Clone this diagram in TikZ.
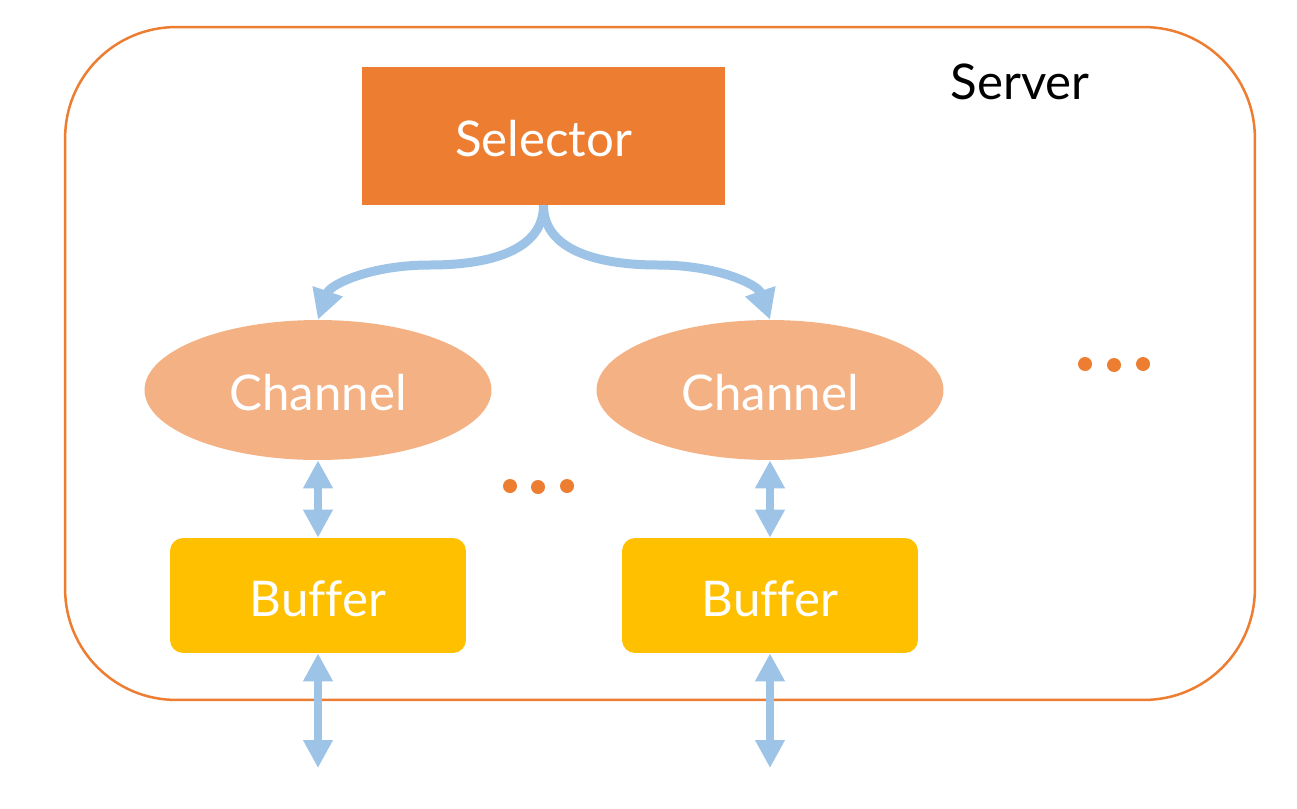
\documentclass[tikz,border=0pt]{standalone}
\usepackage{fontspec}
\setmainfont{Lato}[Ligatures=NoCommon]
\usetikzlibrary{arrows.meta,shapes.geometric}
\definecolor{cOrange}{HTML}{ED7D31}
\definecolor{cChan}{HTML}{F4B183}
\definecolor{cBuf}{HTML}{FFC000}
\definecolor{cArrow}{HTML}{9DC3E6}
\tikzset{
  lbl/.style={font=\fontsize{28}{32}\selectfont},
  inlbl/.style={lbl, text=white, inner sep=0pt, text height=0.82cm, text depth=0pt},
  selbox/.style={rectangle, fill=cOrange, minimum width=7.26cm, minimum height=2.76cm, inlbl},
  chan/.style={ellipse, fill=cChan, minimum width=6.94cm, minimum height=2.8cm, inlbl},
  buf/.style={rectangle, rounded corners=0.26cm, fill=cBuf, minimum width=5.92cm, minimum height=2.3cm, inlbl},
  flow/.style={draw=cArrow, line width=0.16cm, {Triangle[length=0.56cm,width=0.56cm]}-{Triangle[length=0.56cm,width=0.56cm]}},
  curvy/.style={draw=cArrow, line width=0.18cm, -{Triangle[length=0.6cm,width=0.6cm]}},
  dot/.style={circle, fill=cOrange, minimum size=0.28cm, inner sep=0pt},
}
\begin{document}
\begin{tikzpicture}[x=0.02cm, y=-0.02cm]
\useasboundingbox (0,0) rectangle (1297,808);
\node[draw=cOrange, line width=0.05cm, rounded corners=2.22cm, minimum width=23.8cm, minimum height=13.46cm, inner sep=0pt] (server) at (660,363.5) {};
\node[lbl, text=black] (srvtext) at (1020,82) {Server};
\node[selbox] (sel) at (543.5,136) {Selector};
\node[chan] (ch1) at (318,390) {Channel};
\node[chan] (ch2) at (770,390) {Channel};
\node[buf] (buf1) at (318,595.5) {Buffer};
\node[buf] (buf2) at (770,595.5) {Buffer};
\coordinate (m1) at (430,265);
\coordinate (m2) at (658,265);
\coordinate (o1) at (318,768);
\coordinate (o2) at (770,768);
\draw[curvy] (sel.south) .. controls +(0,45) and +(60,0) .. (m1) .. controls +(-60,0) and +(12,-35) .. (ch1.north);
\draw[curvy] (sel.south) .. controls +(0,45) and +(-60,0) .. (m2) .. controls +(60,0) and +(-12,-35) .. (ch2.north);
\draw[flow] (ch1.south) -- (buf1.north);
\draw[flow] (ch2.south) -- (buf2.north);
\draw[flow] (buf1.south) -- (o1);
\draw[flow] (buf2.south) -- (o2);
\node[dot] (d1) at (510,486) {};
\node[dot] (d2) at (538,487) {};
\node[dot] (d3) at (567,486) {};
\node[dot] (d4) at (1085,364) {};
\node[dot] (d5) at (1114,365) {};
\node[dot] (d6) at (1143,364) {};
\end{tikzpicture}
\end{document}
